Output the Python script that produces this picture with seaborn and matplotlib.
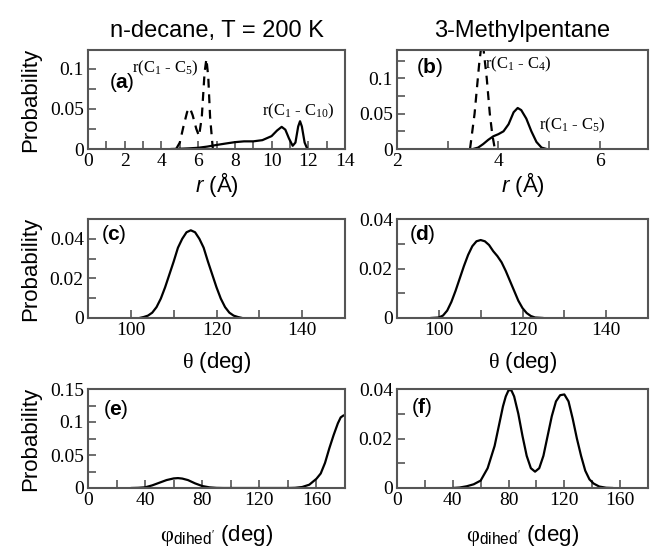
import numpy as np
import pandas as pd
import seaborn as sns
import matplotlib
matplotlib.use('Agg')
import matplotlib.pyplot as plt
from matplotlib.ticker import MultipleLocator

# (a) n-decane distances
a_c5_r = [4.8, 5.0, 5.2, 5.4, 5.55, 5.7, 5.9, 6.05, 6.2, 6.35, 6.45, 6.55, 6.65, 6.8]
a_c5_p = [0, 0.008, 0.028, 0.046, 0.051, 0.042, 0.025, 0.016, 0.04, 0.095, 0.112, 0.09, 0.04, 0]
a_c10_r = [4.5, 5.0, 5.5, 6.0, 6.5, 7.0, 7.5, 8.0, 8.5, 9.0, 9.5, 10.0, 10.3, 10.55, 10.75,
           10.95, 11.15, 11.3, 11.45, 11.55, 11.65, 11.8, 11.95]
a_c10_p = [0, 0.0003, 0.0008, 0.0015, 0.003, 0.005, 0.0068, 0.0085, 0.0095, 0.0095, 0.011,
           0.016, 0.023, 0.0275, 0.024, 0.013, 0.004, 0.008, 0.028, 0.0345, 0.028, 0.008, 0]

# (b) 3-methylpentane distances
b_c4_r = [3.44, 3.53, 3.62, 3.67, 3.7, 3.77, 3.83, 3.88, 3.93]
b_c4_p = [0, 0.05, 0.12, 0.15, 0.145, 0.1, 0.05, 0.02, 0]
b_c5_r = [3.5, 3.6, 3.7, 3.8, 3.9, 4.0, 4.1, 4.2, 4.3, 4.38, 4.45, 4.55, 4.65, 4.75, 4.85, 4.95]
b_c5_p = [0, 0.002, 0.007, 0.013, 0.018, 0.021, 0.025, 0.035, 0.052, 0.058, 0.055, 0.043,
          0.025, 0.01, 0.002, 0]

# (c) n-decane bond angle
c_theta = [102, 103, 104, 105, 106, 107, 108, 109, 110, 111, 112, 113, 114, 115, 116, 117,
           118, 119, 120, 121, 122, 123, 124, 125, 126]
c_p = [0, 0.0005, 0.0012, 0.0027, 0.0055, 0.0098, 0.0155, 0.022, 0.0285, 0.0355, 0.040,
       0.0433, 0.0443, 0.0433, 0.040, 0.0355, 0.0285, 0.022, 0.0155, 0.0098, 0.0055, 0.0027,
       0.0012, 0.0005, 0]

# (d) 3-methylpentane bond angle
d_theta = [98, 100, 101, 102, 103, 104, 105, 106, 107, 108, 109, 110, 111, 112, 113, 114,
           115, 116, 117, 118, 119, 120, 121, 122, 123, 125]
d_p = [0, 0.0002, 0.001, 0.003, 0.0065, 0.011, 0.016, 0.021, 0.0255, 0.029, 0.031, 0.0315,
       0.031, 0.0295, 0.027, 0.025, 0.0225, 0.019, 0.015, 0.011, 0.007, 0.004, 0.002, 0.0008,
       0.0002, 0]

# (e) n-decane dihedral
e_phi = [30, 35, 40, 45, 50, 55, 60, 63, 66, 70, 75, 80, 85, 90, 95, 140, 145, 150, 155, 160,
         163, 166, 169, 172, 175, 177, 179, 180]
e_p = [0, 0.0003, 0.001, 0.004, 0.008, 0.012, 0.0145, 0.015, 0.0143, 0.012, 0.007, 0.003,
       0.001, 0.0002, 0, 0, 0.0003, 0.0015, 0.005, 0.014, 0.022, 0.038, 0.06, 0.08, 0.098,
       0.107, 0.11, 0.11]

# (f) 3-methylpentane dihedral
f_phi = [40, 45, 50, 55, 60, 65, 70, 73, 76, 78, 80, 82, 84, 87, 90, 93, 96, 99, 102, 105,
         108, 111, 114, 117, 120, 123, 126, 129, 132, 135, 138, 141, 145, 150, 155]
f_p = [0, 0.0002, 0.0007, 0.0015, 0.003, 0.008, 0.017, 0.025, 0.033, 0.037, 0.0395, 0.0395,
       0.037, 0.03, 0.021, 0.013, 0.008, 0.0066, 0.008, 0.013, 0.021, 0.029, 0.035, 0.0375,
       0.0378, 0.035, 0.028, 0.02, 0.013, 0.007, 0.0035, 0.0018, 0.0006, 0.0001, 0]

sns.set_style('white')
serif = ['Liberation Serif', 'DejaVu Serif']
sans = ['Liberation Sans', 'DejaVu Sans']
# serif by default (tick labels), sans given explicitly for titles/labels
plt.rcParams['font.family'] = serif
plt.rcParams['text.color'] = 'black'
plt.rcParams['axes.labelcolor'] = 'black'
plt.rcParams['xtick.color'] = 'black'
plt.rcParams['ytick.color'] = 'black'
plt.rcParams['mathtext.fontset'] = 'custom'
plt.rcParams['mathtext.rm'] = 'Liberation Serif'
plt.rcParams['mathtext.it'] = 'Liberation Sans:italic'
plt.rcParams['mathtext.sf'] = 'Liberation Sans'

spine_col = '#555555'

fig = plt.figure(figsize=(6.5, 5.5), dpi=100)
W, H = 650, 550


def make_ax(l, t, r, b):
    return fig.add_axes([l / W, 1 - b / H, (r - l) / W, (b - t) / H])


def style(ax, xlim, ylim, xmaj, xmin, ymaj, ymin, yfmt):
    ax.set_xlim(*xlim)
    ax.set_ylim(*ylim)
    ax.xaxis.set_major_locator(MultipleLocator(xmaj))
    ax.xaxis.set_minor_locator(MultipleLocator(xmin))
    ax.yaxis.set_major_locator(MultipleLocator(ymaj))
    ax.yaxis.set_minor_locator(MultipleLocator(ymin))
    ax.yaxis.set_major_formatter(plt.FuncFormatter(lambda v, p: '0' if abs(v) < 1e-12 else yfmt.format(v)))
    ax.tick_params(which='both', direction='in', top=False, right=False, bottom=True, left=True,
                   color=spine_col, width=1.2)
    ax.tick_params(which='major', length=6, labelsize=14, pad=3, labelcolor='black')
    ax.tick_params(which='minor', length=6)
    for s in ax.spines.values():
        s.set_color(spine_col)
        s.set_linewidth(1.5)
    ax.set_xlabel('')
    ax.set_ylabel('')


def curve(ax, x, y, dashed=False):
    df = pd.DataFrame({'x': x, 'y': y})
    sns.lineplot(data=df, x='x', y='y', ax=ax, color='black', lw=1.6,
                 linestyle=(0, (4, 3)) if dashed else '-', sort=False)


def panel_label(ax, letter, x, y):
    ax.text(x, y, '(', transform=ax.transAxes, fontsize=15, va='center', ha='left', family=sans)
    t = ax.text(x + 0.022, y, letter, transform=ax.transAxes, fontsize=15, va='center',
                ha='left', fontweight='bold', family=sans)
    fig.canvas.draw()
    bb = t.get_window_extent().transformed(ax.transAxes.inverted())
    ax.text(bb.x1, y, ')', transform=ax.transAxes, fontsize=15, va='center', ha='left', family=sans)


L0, L1, R0, R1 = 88, 345, 397, 648
rows = [(50, 149), (219, 318), (389, 488)]
phi_label = r"$\mathrm{φ}_{\mathsf{dihed'}}$ (deg)"

# (a)
ax = make_ax(L0, rows[0][0], L1, rows[0][1])
curve(ax, a_c5_r, a_c5_p, dashed=True)
curve(ax, a_c10_r, a_c10_p)
style(ax, (0, 14), (0, 0.123), 2, 1, 0.05, 0.025, '{:g}')
ax.text(2.4, 0.1, r'r(C$_1$ - C$_5$)', fontsize=12, family=serif, va='center')
ax.text(9.5, 0.047, r'r(C$_1$ - C$_{10}$)', fontsize=12, family=serif, va='center')
ax.set_title('n-decane, T = 200 K', fontsize=17, pad=9, family=sans)
ax.set_ylabel('Probability', fontsize=16, labelpad=6, family=sans)
ax.set_xlabel(r'$r$ (Å)', fontsize=16, labelpad=0, family=sans)
panel_label(ax, 'a', 0.085, 0.67)

# (b)
ax = make_ax(R0, rows[0][0], R1, rows[0][1])
curve(ax, b_c4_r, b_c4_p, dashed=True)
curve(ax, b_c5_r, b_c5_p)
style(ax, (2, 6.95), (0, 0.14), 2, 1, 0.05, 0.025, '{:g}')
ax.text(3.74, 0.12, r'r(C$_1$ - C$_4$)', fontsize=12, family=serif, va='center')
ax.text(4.8, 0.034, r'r(C$_1$ - C$_5$)', fontsize=12, family=serif, va='center')
ax.set_title('3-Methylpentane', fontsize=17, pad=9, family=sans)
ax.set_xlabel(r'$r$ (Å)', fontsize=16, labelpad=0, family=sans)
panel_label(ax, 'b', 0.08, 0.82)

# (c)
ax = make_ax(L0, rows[1][0], L1, rows[1][1])
curve(ax, c_theta, c_p)
style(ax, (90, 150), (0, 0.05), 20, 10, 0.02, 0.01, '{:.2f}')
ax.set_ylabel('Probability', fontsize=16, labelpad=6, family=sans)
ax.set_xlabel(r'$\mathrm{θ}$ (deg)', fontsize=16, labelpad=8, family=sans)
panel_label(ax, 'c', 0.054, 0.84)

# (d)
ax = make_ax(R0, rows[1][0], R1, rows[1][1])
curve(ax, d_theta, d_p)
style(ax, (90, 150), (0, 0.04), 20, 10, 0.02, 0.01, '{:.2f}')
ax.set_xlabel(r'$\mathrm{θ}$ (deg)', fontsize=16, labelpad=8, family=sans)
panel_label(ax, 'd', 0.05, 0.84)

# (e)
ax = make_ax(L0, rows[2][0], L1, rows[2][1])
curve(ax, e_phi, e_p)
style(ax, (0, 180), (0, 0.15), 40, 20, 0.05, 0.025, '{:g}')
ax.set_ylabel('Probability', fontsize=16, labelpad=6, family=sans)
ax.set_xlabel(phi_label, fontsize=16, labelpad=10, family=sans)
panel_label(ax, 'e', 0.06, 0.79)

# (f)
ax = make_ax(R0, rows[2][0], R1, rows[2][1])
curve(ax, f_phi, f_p)
style(ax, (0, 180), (0, 0.04), 40, 20, 0.02, 0.01, '{:.2f}')
ax.set_xlabel(phi_label, fontsize=16, labelpad=10, family=sans)
panel_label(ax, 'f', 0.06, 0.81)

fig.savefig('out.png', dpi=100)
